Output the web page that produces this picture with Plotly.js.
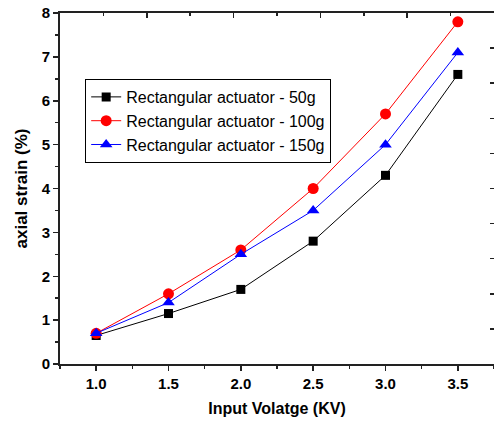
<!DOCTYPE html>
<html><head><meta charset="utf-8">
<script src="https://cdn.plot.ly/plotly-3.0.1.min.js"></script>
<style>html,body{margin:0;padding:0;overflow:hidden;background:#fff}</style>
</head><body><div id="chart" style="width:494px;height:421px"></div>
<script>
const voltage = [1.0, 1.5, 2.0, 2.5, 3.0, 3.5];
const strain50 = [0.65, 1.15, 1.7, 2.8, 4.3, 6.6];
const strain100 = [0.7, 1.6, 2.6, 4.0, 5.7, 7.8];
const strain150 = [0.7, 1.4, 2.5, 3.5, 5.0, 7.1];
const seriesNames = ['Rectangular actuator - 50g', 'Rectangular actuator - 100g', 'Rectangular actuator - 150g'];
const xTickText = ['1.0', '1.5', '2.0', '2.5', '3.0', '3.5'];

const traces = [
  {x: voltage, y: strain50, name: seriesNames[0], mode: 'lines+markers',
   line: {color: '#000000', width: 1}, marker: {symbol: 'square', size: 9, color: '#000000'}},
  {x: voltage, y: strain100, name: seriesNames[1], mode: 'lines+markers',
   line: {color: '#ff0000', width: 1}, marker: {symbol: 'circle', size: 11, color: '#ff0000'}},
  {x: voltage, y: strain150, name: seriesNames[2], mode: 'lines+markers',
   line: {color: '#0000ff', width: 1}, marker: {symbol: 'triangle-up', size: 11, color: '#0000ff'}},
  {x: [0], y: [0], xaxis: 'x2', yaxis: 'y2', mode: 'markers', marker: {opacity: 0}, showlegend: false, hoverinfo: 'skip'}
];

const fam = 'Liberation Sans, Arial, sans-serif';
const tickFont = {family: fam, size: 15, color: '#000', weight: 'bold'};
const layout = {
  width: 494, height: 421,
  margin: {l: 60, r: 0, t: 13, b: 57},
  paper_bgcolor: '#fff', plot_bgcolor: '#fff',
  showlegend: true,
  legend: {x: 0.058, y: 0.812, xanchor: 'left', yanchor: 'top', bgcolor: '#fff',
    bordercolor: '#000', borderwidth: 1, tracegroupgap: 0,
    font: {family: fam, size: 16, color: '#000'}},
  xaxis: {range: [0.75, 3.75], tickvals: voltage, ticktext: xTickText,
    ticks: 'outside', ticklen: 5, tickwidth: 1.5, tickcolor: '#222',
    minor: {dtick: 0.25, tick0: 0.75, ticks: 'outside', ticklen: 3, tickwidth: 1.5, tickcolor: '#222'},
    showline: true, linecolor: '#222', linewidth: 2, mirror: true, showgrid: false, zeroline: false,
    tickfont: tickFont,
    title: {text: 'Input Volatge (KV)', standoff: 12, font: {family: fam, size: 16, color: '#000', weight: 'bold'}}},
  yaxis: {range: [0, 8], dtick: 1, ticks: 'outside', ticklen: 5, tickwidth: 1.5, tickcolor: '#222',
    minor: {dtick: 0.5, ticks: 'outside', ticklen: 3, tickwidth: 1.5, tickcolor: '#222'},
    showline: true, linecolor: '#222', linewidth: 2, showgrid: false, zeroline: false,
    tickfont: tickFont,
    title: {text: 'axial strain (%)', standoff: 10, font: {family: fam, size: 17, color: '#000', weight: 'bold'}}},
  xaxis2: {overlaying: 'x', side: 'top', anchor: 'y', range: [0, 10], dtick: 2, ticks: 'inside', ticklen: 5,
    tickwidth: 1.5, tickcolor: '#222', showticklabels: false, showline: false, showgrid: false, zeroline: false,
    minor: {dtick: 1, ticks: 'inside', ticklen: 3, tickwidth: 1.5, tickcolor: '#222'}},
  yaxis2: {overlaying: 'y', side: 'right', anchor: 'x', range: [0, 10], dtick: 1, ticks: 'inside', ticklen: 4,
    tickwidth: 1.5, tickcolor: '#222', showticklabels: false, showline: false, showgrid: false, zeroline: false}
};
Plotly.newPlot('chart', traces, layout, {displayModeBar: false, staticPlot: true});
</script></body></html>
